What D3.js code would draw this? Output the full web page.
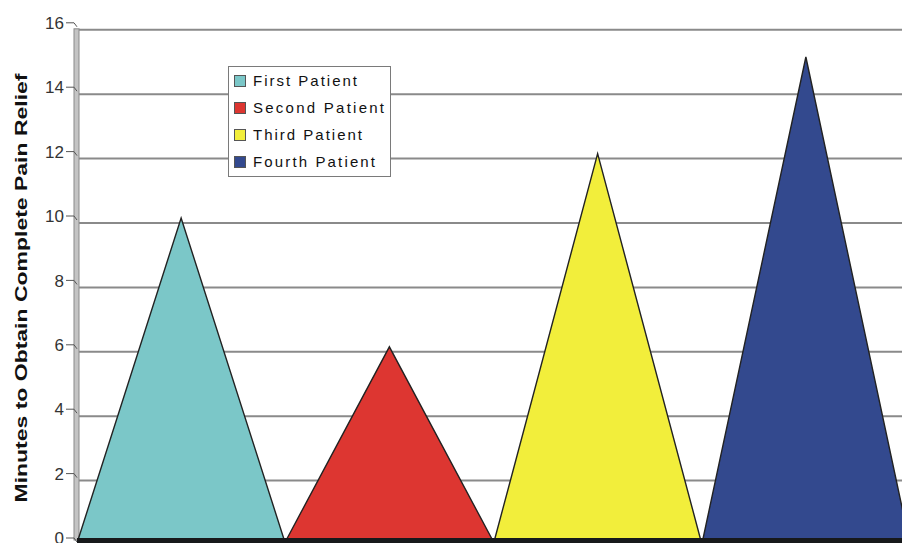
<!DOCTYPE html>
<html>
<head>
<meta charset="utf-8">
<script src="https://cdn.jsdelivr.net/npm/d3@7"></script>
<style>
  html, body { margin: 0; padding: 0; background: #fff; }
  svg { display: block; font-family: "Liberation Sans", Arial, sans-serif; }
</style>
</head>
<body>
<svg id="chart" width="902" height="543"></svg>
<script>
// Minutes each patient needed to obtain complete pain relief
const patients = ["First Patient", "Second Patient", "Third Patient", "Fourth Patient"];
const minutes = [10, 6, 12, 15];
const colors = ["#7bc7c8", "#dd3631", "#f2ee3b", "#33498e"];
const yTicks = [0, 2, 4, 6, 8, 10, 12, 14, 16];
const yTitle = "Minutes to Obtain Complete Pain Relief";
const legendWidths = [104, 131, 109, 122];

const svg = d3.select("#chart");
const W = 902, H = 543;
const left = 77, right = 910;
const gridShift = 5; // back-wall gridlines sit slightly below the front-plane ticks

const x = d3.scaleBand().domain(patients).range([left, right]).padding(0);
const y = d3.scaleLinear().domain([0, 16]).range([540, 24.8]);

// Gridlines on the back wall
svg.append("g").selectAll("line")
  .data(yTicks.filter(d => d > 0))
  .join("line")
  .attr("x1", left + 2).attr("x2", W)
  .attr("y1", d => y(d) + gridShift).attr("y2", d => y(d) + gridShift)
  .attr("stroke", "#8a8a8a").attr("stroke-width", 2);

// Vertical axis wall
svg.append("rect")
  .attr("x", 74).attr("y", y(16) + gridShift - 1)
  .attr("width", 5).attr("height", 540 - y(16) - gridShift + 1)
  .attr("fill", "#c4c4c4").attr("stroke", "#8a8a8a").attr("stroke-width", 1);

// Tick marks with their little bend onto the wall
const tickG = svg.append("g");
tickG.selectAll("path")
  .data(yTicks)
  .join("path")
  .attr("d", d => `M66,${y(d) - 2} L74,${y(d) - 2} L77,${y(d) + 2}`)
  .attr("fill", "none").attr("stroke", "#555").attr("stroke-width", 1);

tickG.selectAll("text")
  .data(yTicks)
  .join("text")
  .attr("x", 64).attr("y", d => y(d) - 2)
  .attr("dy", "0.36em")
  .attr("text-anchor", "end")
  .attr("font-size", 17)
  .attr("fill", "#333")
  .text(d => d);

// Triangular columns
svg.append("g").selectAll("path")
  .data(patients.map((p, i) => ({ p, v: minutes[i], c: colors[i] })))
  .join("path")
  .attr("d", d => {
    const x0 = x(d.p), x1 = x(d.p) + x.bandwidth(), xm = x0 + x.bandwidth() / 2;
    return `M${x0 + 1},${y(0)} L${xm},${y(d.v)} L${x1 - 1},${y(0)} Z`;
  })
  .attr("fill", d => d.c)
  .attr("stroke", "#222").attr("stroke-width", 1.4)
  .attr("stroke-linejoin", "miter");

// Floor
svg.append("rect")
  .attr("x", left).attr("y", 538)
  .attr("width", W - left).attr("height", 6)
  .attr("fill", "#17191b");

// Y-axis title
svg.append("text")
  .attr("transform", `translate(27,${288}) rotate(-90)`)
  .attr("text-anchor", "middle")
  .attr("font-size", 16)
  .attr("font-weight", "bold")
  .attr("fill", "#111")
  .attr("textLength", 429)
  .attr("lengthAdjust", "spacingAndGlyphs")
  .text(yTitle);

// Legend
const lg = svg.append("g");
lg.append("rect")
  .attr("x", 228.5).attr("y", 66.5).attr("width", 162).attr("height", 110)
  .attr("fill", "#fff").attr("stroke", "#7a7a7a").attr("stroke-width", 1);
const rowY = [81, 108, 135, 162];
const items = lg.selectAll("g.item")
  .data(patients.map((p, i) => ({ p, c: colors[i], yy: rowY[i], w: legendWidths[i] })))
  .join("g").attr("class", "item");
items.append("rect")
  .attr("x", 234.5).attr("y", d => d.yy - 5.5)
  .attr("width", 11).attr("height", 11)
  .attr("fill", d => d.c).attr("stroke", "#555").attr("stroke-width", 1);
items.append("text")
  .attr("x", 253).attr("y", d => d.yy)
  .attr("dy", "0.36em")
  .attr("font-size", 15)
  .attr("textLength", d => d.w)
  .attr("lengthAdjust", "spacing")
  .attr("fill", "#111")
  .text(d => d.p);
</script>
</body>
</html>
